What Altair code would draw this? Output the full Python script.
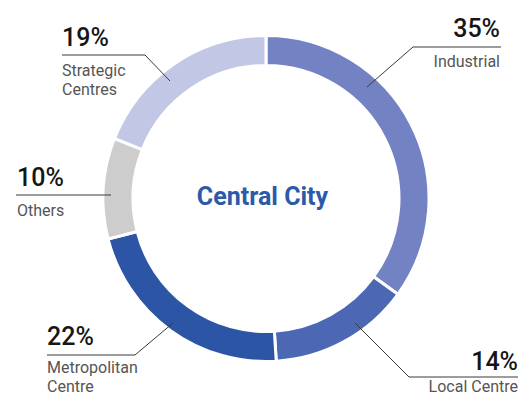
import altair as alt
import pandas as pd

# ---- data ----
categories = ["Industrial", "Local Centre", "Metropolitan Centre", "Others", "Strategic Centres"]
shares = [35, 14, 22, 10, 19]
colors = ["#7382C2", "#4C67B4", "#2C55A5", "#CDCDCD", "#C2C7E5"]
pct_labels = [f"{s}%" for s in shares]
name_lines = [["Industrial"], ["Local Centre"], ["Metropolitan", "Centre"], ["Others"], ["Strategic", "Centres"]]
center_title = "Central City"

# ---- annotation layout (image pixel space) ----
layout = [
    dict(px=500, py=37, align="right", leader=[(501, 47), (413, 47), (367, 87)], ny=67),
    dict(px=518, py=370, align="right", leader=[(518, 377), (409, 377), (355, 323)], ny=392),
    dict(px=47, py=345, align="left", leader=[(47, 355), (135, 355), (173, 323)], ny=373),
    dict(px=17, py=186, align="left", leader=[(16, 195), (111, 195)], ny=216),
    dict(px=62, py=46, align="left", leader=[(62, 55), (145, 55), (170, 81)], ny=76),
]
line_gap = 19

W, H = 511, 387
xs = alt.Scale(domain=[8, 8 + W], nice=False, zero=False)
ys = alt.Scale(domain=[8, 8 + H], nice=False, zero=False, reverse=True)

arc_df = pd.DataFrame({"category": categories, "share": shares, "idx": range(len(categories))})

pct_rows, name_rows, lead_rows = [], [], []
for i, (cat, lab, names, lo) in enumerate(zip(categories, pct_labels, name_lines, layout)):
    pct_rows.append(dict(x=lo["px"], y=lo["py"], t=lab, align=lo["align"]))
    for j, n in enumerate(names):
        name_rows.append(dict(x=lo["px"], y=lo["ny"] + j * line_gap, t=n, align=lo["align"]))
    for k, (lx, ly) in enumerate(lo["leader"]):
        lead_rows.append(dict(cat=cat, k=k, x=lx, y=ly))

pct_df = pd.DataFrame(pct_rows)
name_df = pd.DataFrame(name_rows)
lead_df = pd.DataFrame(lead_rows)

arc = alt.Chart(arc_df).mark_arc(innerRadius=133, outerRadius=163, stroke="white", strokeWidth=3).encode(
    theta=alt.Theta("share:Q", stack=True),
    color=alt.Color("category:N", scale=alt.Scale(domain=categories, range=colors), legend=None),
    order=alt.Order("idx:Q"),
    x=alt.value(258),
    y=alt.value(190.5),
)

leaders = alt.Chart(lead_df).mark_line(color="#3a3a3a", strokeWidth=1).encode(
    x=alt.X("x:Q", scale=xs, axis=None),
    y=alt.Y("y:Q", scale=ys, axis=None),
    detail="cat:N",
    order="k:Q",
)

def text_layer(df, align, size, color, weight="normal"):
    return alt.Chart(df[df["align"] == align]).mark_text(
        align=align, baseline="alphabetic", fontSize=size, color=color, font="Roboto", fontWeight=weight
    ).encode(
        x=alt.X("x:Q", scale=xs, axis=None),
        y=alt.Y("y:Q", scale=ys, axis=None),
        text="t:N",
    )

pct_layers = [text_layer(pct_df, a, 25, "#161616", 500) for a in ["left", "right"]]
name_layers = [text_layer(name_df, a, 16, "#555555") for a in ["left", "right"]]

center_df = pd.DataFrame({"x": [262.5], "y": [205], "t": [center_title]})
center = alt.Chart(center_df).mark_text(
    align="center", baseline="alphabetic", fontSize=25, fontWeight="bold", color="#2D5AA8", font="Roboto"
).encode(
    x=alt.X("x:Q", scale=xs, axis=None),
    y=alt.Y("y:Q", scale=ys, axis=None),
    text="t:N",
)

chart = alt.layer(arc, leaders, *pct_layers, *name_layers, center).properties(
    width=W, height=H, padding=0, autosize="none"
).configure_view(stroke=None)

chart.save("out.html", embed_options={"renderer": "svg", "actions": False})
